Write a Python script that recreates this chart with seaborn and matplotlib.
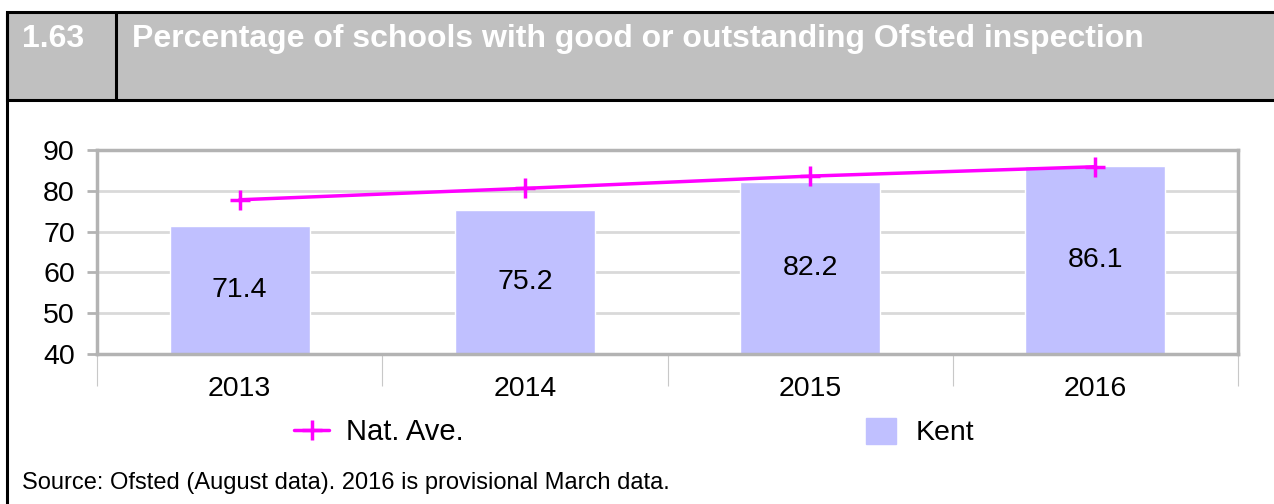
import numpy as np
import pandas as pd
import matplotlib
matplotlib.use("Agg")
import matplotlib.pyplot as plt
from matplotlib.patches import Rectangle, Patch
from matplotlib.lines import Line2D
import seaborn as sns

# Data
years = ["2013", "2014", "2015", "2016"]
kent = [71.4, 75.2, 82.2, 86.1]
nat_ave = [77.8, 80.6, 83.6, 85.9]
y_ticks = [40, 50, 60, 70, 80, 90]

df = pd.DataFrame({"year": years, "Kent": kent, "Nat. Ave.": nat_ave})

sns.set_style("white")
plt.rcParams["font.family"] = ["Liberation Sans", "DejaVu Sans"]
plt.rcParams["text.color"] = "black"

W, H = 1274, 504
fig = plt.figure(figsize=(W / 100, H / 100), dpi=100)

bar_col = "#C0C0FF"
line_col = "#FF00FF"
grid_col = "#D9D9D9"
axis_col = "#B3B3B3"


def fx(px):
    return px / W


def fy(py):
    return 1 - py / H


# Header band and frame
fig.patches.append(Rectangle((fx(7), fy(100)), 1 - fx(7) + 0.01, fy(12) - fy(100),
                             transform=fig.transFigure, facecolor="#C0C0C0",
                             edgecolor="black", linewidth=2.2, zorder=0))
fig.lines.append(Line2D([fx(7), fx(7)], [fy(12), 0], transform=fig.transFigure,
                        color="black", linewidth=2.2))
fig.lines.append(Line2D([fx(116), fx(116)], [fy(12), fy(100)], transform=fig.transFigure,
                        color="black", linewidth=2.2))
fig.text(fx(22), fy(39), "1.63", color="white", fontsize=23, fontweight="bold", va="center")
fig.text(fx(132), fy(39), "Percentage of schools with good or outstanding Ofsted inspection",
         color="white", fontsize=23, fontweight="bold", va="center")

# Chart
ax = fig.add_axes([fx(97), fy(354), fx(1238) - fx(97), fy(150) - fy(354)])
sns.barplot(data=df, x="year", y="Kent", color=bar_col, width=0.49,
            saturation=1, ax=ax, zorder=2)
sns.pointplot(data=df, x="year", y="Nat. Ave.", color=line_col, markers="+",
              markersize=14, markeredgewidth=2.5, linewidth=2.5, ax=ax)
for l in ax.lines:
    l.set_zorder(4)

ax.bar_label(ax.containers[0], labels=[f"{v:.1f}" for v in kent],
             label_type="center", fontsize=20.5, color="black")

ax.set_ylim(40, 90)
ax.set_xlim(-0.5, 3.5)
ax.set_yticks(y_ticks)
ax.yaxis.grid(True, color=grid_col, linewidth=2, zorder=0)
ax.set_axisbelow(True)
ax.set_xlabel("")
ax.set_ylabel("")

for side in ["left", "bottom", "top", "right"]:
    ax.spines[side].set_visible(True)
    ax.spines[side].set_color(axis_col)
    ax.spines[side].set_linewidth(2.5)

ax.tick_params(axis="y", left=True, length=7, width=2, color=axis_col,
               labelsize=20.5, pad=9, labelcolor="black")
ax.set_xticks(np.arange(-0.5, 4, 1), minor=True)
ax.tick_params(axis="x", which="major", length=0, labelsize=20.5, pad=16, labelcolor="black")
ax.tick_params(axis="x", which="minor", bottom=True, length=23, width=0.8, color="#C8C8C8")

# Legend
h_nat = Line2D([], [], color=line_col, marker="+", markersize=14,
               markeredgewidth=2.5, linewidth=2.5)
h_kent = Patch(facecolor=bar_col, edgecolor=bar_col)
fig.legend(handles=[h_nat], labels=["Nat. Ave."], loc="center left",
           bbox_to_anchor=(fx(294), fy(432)), frameon=False, fontsize=21,
           borderpad=0, borderaxespad=0, handlelength=1.2, handletextpad=0.6)
fig.legend(handles=[h_kent], labels=["Kent"], loc="center left",
           bbox_to_anchor=(fx(866), fy(432)), frameon=False, fontsize=20.5,
           borderpad=0, borderaxespad=0, handlelength=1.05, handleheight=1.05,
           handletextpad=0.7)

fig.text(fx(22), fy(483), "Source: Ofsted (August data). 2016 is provisional March data.",
         fontsize=17, va="center")

fig.savefig("out.png", dpi=100)
